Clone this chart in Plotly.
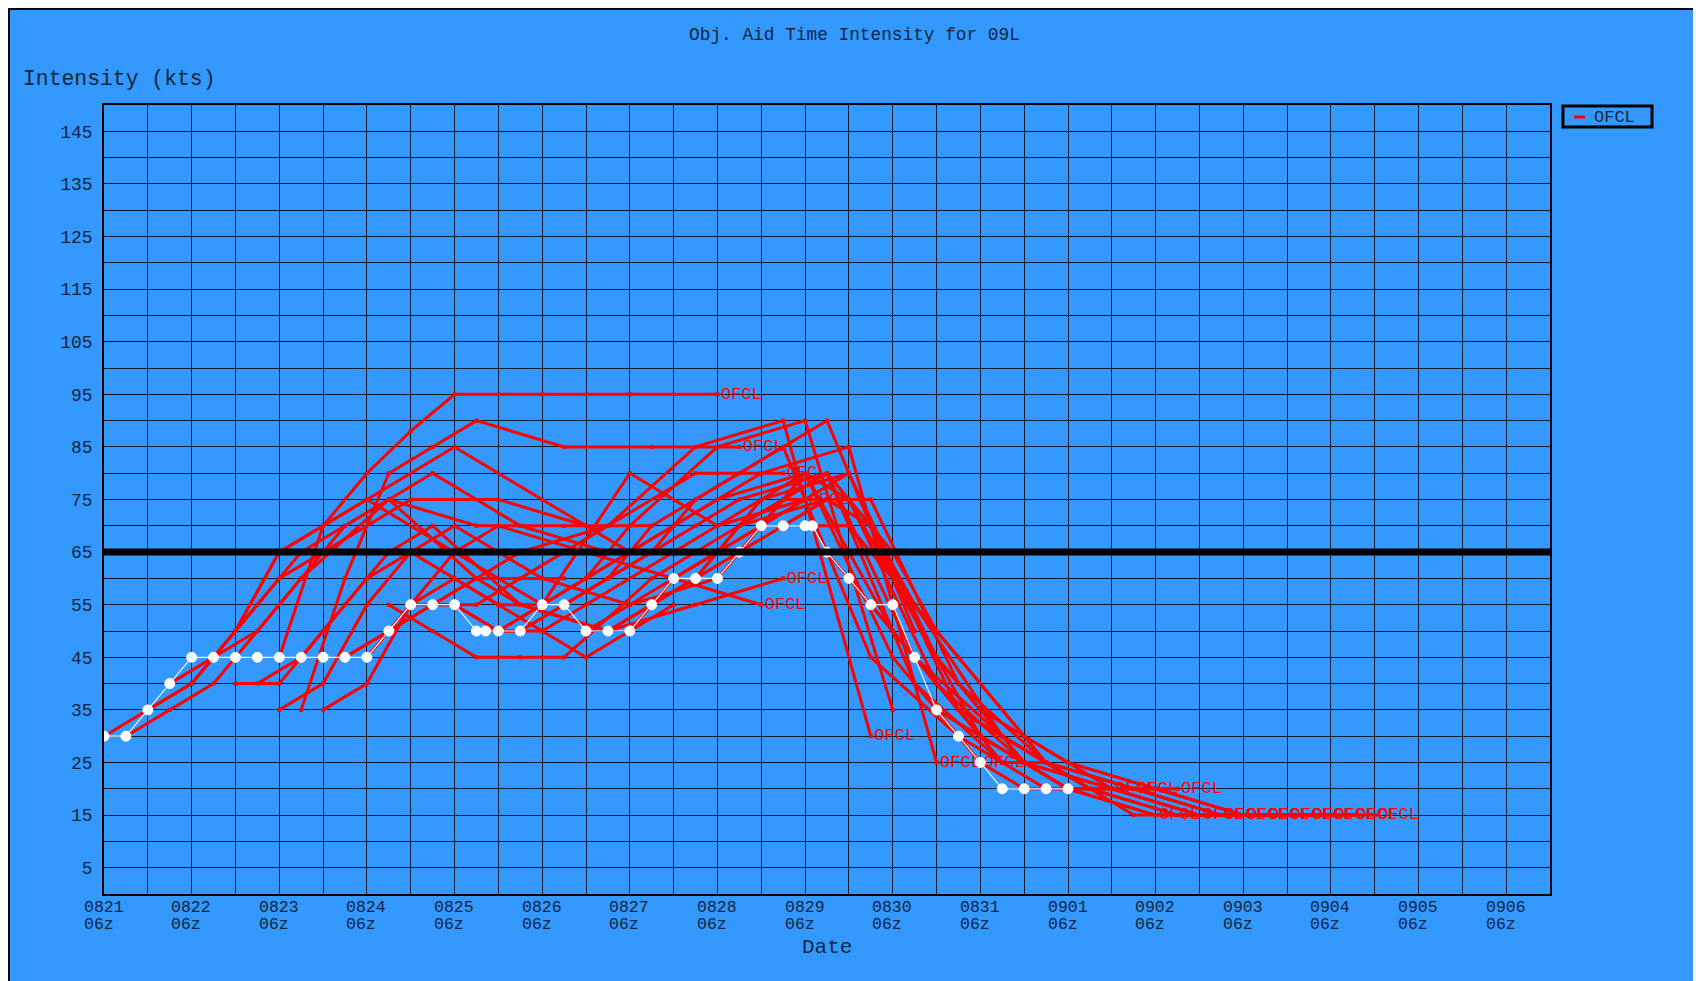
import plotly.graph_objects as go
import pandas as pd

# ---------------- data ----------------
bt_time = ["2012-08-21 06:00", "2012-08-21 12:00", "2012-08-21 18:00", "2012-08-22 00:00",
           "2012-08-22 06:00", "2012-08-22 12:00", "2012-08-22 18:00", "2012-08-23 00:00",
           "2012-08-23 06:00", "2012-08-23 12:00", "2012-08-23 18:00", "2012-08-24 00:00",
           "2012-08-24 06:00", "2012-08-24 12:00", "2012-08-24 18:00", "2012-08-25 00:00",
           "2012-08-25 06:00", "2012-08-25 12:00", "2012-08-25 14:30", "2012-08-25 18:00",
           "2012-08-26 00:00", "2012-08-26 06:00", "2012-08-26 12:00", "2012-08-26 18:00",
           "2012-08-27 00:00", "2012-08-27 06:00", "2012-08-27 12:00", "2012-08-27 18:00",
           "2012-08-28 00:00", "2012-08-28 06:00", "2012-08-28 12:00", "2012-08-28 18:00",
           "2012-08-29 00:00", "2012-08-29 06:00", "2012-08-29 08:00", "2012-08-29 12:00",
           "2012-08-29 18:00", "2012-08-30 00:00", "2012-08-30 06:00", "2012-08-30 12:00",
           "2012-08-30 18:00", "2012-08-31 00:00", "2012-08-31 06:00", "2012-08-31 12:00",
           "2012-08-31 18:00", "2012-09-01 00:00", "2012-09-01 06:00"]
bt_vmax = [30, 30, 35, 40, 45, 45, 45, 45, 45, 45, 45, 45, 45, 50, 55, 55, 55, 50, 50, 50,
           50, 55, 55, 50, 50, 50, 55, 60, 60, 60, 65, 70, 70, 70, 70, 65, 60, 55, 55, 45,
           35, 30, 25, 20, 20, 20, 20]

fcst_taus = [0, 12, 24, 36, 48, 72, 96, 120]

fcst_init = ["2012-08-21 06:00", "2012-08-21 12:00", "2012-08-21 18:00", "2012-08-22 00:00",
             "2012-08-22 06:00", "2012-08-22 12:00", "2012-08-22 18:00", "2012-08-23 00:00",
             "2012-08-23 06:00", "2012-08-23 06:00", "2012-08-23 12:00", "2012-08-23 18:00",
             "2012-08-24 00:00", "2012-08-24 00:00", "2012-08-24 06:00", "2012-08-24 12:00",
             "2012-08-24 18:00", "2012-08-25 00:00", "2012-08-25 06:00", "2012-08-25 12:00",
             "2012-08-25 18:00", "2012-08-26 00:00", "2012-08-26 06:00", "2012-08-26 12:00",
             "2012-08-26 18:00", "2012-08-27 00:00", "2012-08-27 06:00", "2012-08-27 12:00",
             "2012-08-27 18:00", "2012-08-28 00:00", "2012-08-28 06:00", "2012-08-28 12:00",
             "2012-08-28 18:00", "2012-08-29 00:00", "2012-08-29 06:00", "2012-08-29 12:00",
             "2012-08-29 18:00", "2012-08-30 00:00", "2012-08-30 06:00", "2012-08-30 12:00",
             "2012-08-30 18:00", "2012-08-31 00:00", "2012-08-31 06:00"]

fcst_vmax = [
    [30, 35, 40, 50, 65, 75, 65, 55],
    [30, 35, 40, 50, 60, 75, 60, 60],
    [35, 40, 50, 60, 65, 75, 75, 70],
    [40, 45, 55, 65, 70, 80, 70, 65],
    [40, 50, 65, 70, 75, 85, 75, 65],
    [45, 50, 60, 70, 75, 70, 70, 70],
    [40, 40, 50, 60, 65, 55, 45, 55],
    [40, 45, 55, 65, 70, 55, 50, 60],
    [45, 70, 80, 88, 95, 95, 95, 95],
    [35, 40, 55, 65, 70, 60, 55, 60],
    [35, 60, 80, 85, 90, 85, 85, 85],
    [35, 40, 55, 65, 70, 65, 60, 55],
    [45, 50, 55, 60, 65, 70, 80, 80],
    [45, 50, 55, 60, 55, 50, 55, 60],
    [45, 55, 60, 55, 55, 80, 70, 75],
    [55, 50, 45, 45, 45, 60, 70, 75],
    [55, 55, 50, 50, 55, 65, 75, 80],
    [55, 55, 60, 65, 70, 85, 90, 30],
    [55, 50, 55, 60, 70, 85, 90, 35],
    [50, 50, 55, 60, 70, 80, 90, 50],
    [50, 55, 60, 65, 70, 80, 85, 25],
    [50, 55, 60, 65, 75, 85, 45, 30],
    [55, 60, 65, 70, 75, 80, 45, 25],
    [55, 60, 65, 70, 75, 80, 40, 25],
    [50, 55, 60, 65, 70, 80, 45, 25],
    [50, 55, 60, 70, 75, 75, 40, 25],
    [50, 60, 65, 75, 80, 50, 30, 20],
    [55, 60, 70, 75, 80, 45, 30, 20],
    [60, 65, 70, 80, 75, 40, 25, 20],
    [60, 65, 75, 80, 70, 35, 25, 20],
    [60, 70, 80, 75, 60, 30, 20, 15],
    [65, 70, 75, 70, 55, 30, 20, 20],
    [70, 75, 75, 65, 50, 30, 20, 15],
    [70, 75, 70, 55, 45, 25, 20, 15],
    [70, 70, 60, 45, 35, 25, 20, 15],
    [65, 55, 45, 35, 30, 20, 15, 15],
    [60, 50, 40, 30, 25, 20, 15, 15],
    [55, 45, 35, 30, 25, 15, 15, 15],
    [50, 40, 30, 25, 20, 15, 15, 15],
    [45, 35, 25, 25, 20, 15, 15, 15],
    [35, 30, 25, 20, 20, 15, 15, 15],
    [30, 25, 20, 20, 20, 15, 15],
    [25, 20, 20, 20, 20, 15],
]

# whether the "OFCL" end label of each forecast is legible in the chart
fcst_label = [False, False, False, False, False, False, False, False,
              True, False, True, True, True, True, True, False,
              False, True, False, False, True, False, True, False,
              False, False, False, False, True, True, True, True,
              True, True, True, True, True, True, True, True,
              True, True, True]

aid_name = "OFCL"
x_start = "2012-08-21 06:00"
x_end = "2012-09-06 18:00"
x_tick_vals = pd.date_range("2012-08-21 06:00", "2012-09-06 06:00", freq="24h")
x_tick_day = [d.strftime("%m%d") for d in x_tick_vals]
x_tick_hour = ["06z"] * len(x_tick_vals)
y_tick_vals = list(range(5, 150, 10))

# ---------------- style ----------------
BG = "#3399FF"
RED = "#FF0000"
INK = "#14243c"
MONO = "Liberation Mono"

W, H = 1693, 973
ML, MR, MT, MB = 96, 151, 97, 87
PW = W - ML - MR
PH = H - MT - MB


def px(xf):
    return (xf - ML) / PW


def py(yf):
    return 1 - (yf - MT) / PH


fig = go.Figure()

for init, vals, lab in zip(fcst_init, fcst_vmax, fcst_label):
    t0 = pd.Timestamp(init)
    xs = [t0 + pd.Timedelta(hours=h) for h in fcst_taus[:len(vals)]]
    txt = [""] * (len(vals) - 1) + [aid_name if lab else ""]
    fig.add_trace(go.Scatter(
        x=xs, y=vals, mode="lines+markers+text",
        line=dict(color=RED, width=3),
        marker=dict(size=4, color=RED, symbol="square"),
        text=txt, textposition="middle right",
        textfont=dict(family=MONO, size=17, color=RED),
        showlegend=False, hoverinfo="skip"))

fig.add_trace(go.Scatter(
    x=pd.to_datetime(bt_time), y=bt_vmax, mode="lines+markers",
    line=dict(color="#EAF4FF", width=1.2),
    marker=dict(size=10, color="white", symbol="circle",
                line=dict(color="white", width=1)),
    showlegend=False, hoverinfo="skip"))

grid = dict(gridcolor="#0b1a2a", gridwidth=1.4)
axis_common = dict(showgrid=True, **grid,
                   showline=True, linecolor="#000000", linewidth=1.6, mirror=True,
                   ticks="", zeroline=False)

fig.update_xaxes(type="date", range=[x_start, x_end],
                 tickmode="array", tickvals=x_tick_vals, showticklabels=False,
                 minor=dict(tick0=x_start, dtick=12 * 3600 * 1000, showgrid=True, **grid),
                 **axis_common)
fig.update_yaxes(range=[0, 150], tickmode="array", tickvals=y_tick_vals,
                 minor=dict(tick0=0, dtick=5, showgrid=True, **grid),
                 ticklabelstandoff=6,
                 tickfont=dict(family=MONO, size=18, color=INK),
                 **axis_common)

shapes = [
    # hurricane threshold line
    dict(type="line", xref="paper", yref="y", x0=0, x1=1, y0=65, y1=65,
         line=dict(color="black", width=7), layer="above"),
    # legend box
    dict(type="rect", xref="paper", yref="paper", x0=px(1555), x1=px(1644),
         y0=py(119), y1=py(98), line=dict(color="black", width=3), layer="above"),
    dict(type="line", xref="paper", yref="paper", x0=px(1566), x1=px(1577),
         y0=py(109), y1=py(109), line=dict(color=RED, width=3), layer="above"),
    # figure frame
    dict(type="rect", xref="paper", yref="paper", x0=px(1), x1=px(W + 5),
         y0=py(H + 5), y1=py(1), line=dict(color="black", width=2), layer="above"),
]

annotations = [
    dict(text="Intensity (kts)", xref="paper", yref="paper", x=px(13), y=py(71),
         xanchor="left", yanchor="middle", showarrow=False,
         font=dict(family=MONO, size=21.4, color=INK)),
    dict(text="Date", xref="paper", yref="paper", x=0.5, y=py(940),
         xanchor="center", yanchor="middle", showarrow=False,
         font=dict(family=MONO, size=21, color=INK)),
    dict(text=aid_name, xref="paper", yref="paper", x=px(1584), y=py(109),
         xanchor="left", yanchor="middle", showarrow=False,
         font=dict(family=MONO, size=17, color=INK)),
]
for tv, dlab, hlab in zip(x_tick_vals, x_tick_day, x_tick_hour):
    annotations.append(dict(text=dlab, xref="x", yref="paper", x=tv, y=py(899),
                            xanchor="left", yanchor="middle", xshift=-22.5,
                            showarrow=False, font=dict(family=MONO, size=16.5, color=INK)))
    annotations.append(dict(text=hlab, xref="x", yref="paper", x=tv, y=py(916.5),
                            xanchor="left", yanchor="middle", xshift=-22.5,
                            showarrow=False, font=dict(family=MONO, size=16.5, color=INK)))

fig.update_layout(
    width=W, height=H,
    margin=dict(l=ML, r=MR, t=MT, b=MB, pad=0),
    paper_bgcolor=BG, plot_bgcolor=BG,
    title=dict(text="Obj. Aid Time Intensity for 09L", x=0.5, xanchor="center",
               y=1 - 26 / H, yanchor="middle",
               font=dict(family=MONO, size=17.8, color=INK)),
    shapes=shapes, annotations=annotations,
    showlegend=False,
)

fig.write_html("out.html")
